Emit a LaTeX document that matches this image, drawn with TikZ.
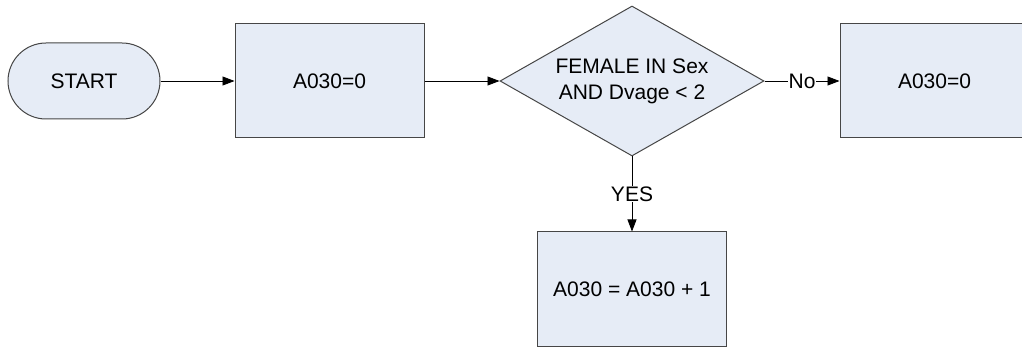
\documentclass[tikz,border=0pt]{standalone}
\usepackage{fontspec}
\setmainfont{Liberation Sans}
\usetikzlibrary{shapes.geometric,arrows.meta}
\definecolor{boxfill}{RGB}{230,236,246}
\definecolor{boxline}{RGB}{70,70,70}
\tikzset{
  every node/.style={font=\fontsize{21}{26}\selectfont},
  procbox/.style={draw=boxline, fill=boxfill, line width=1pt, minimum width=189pt, minimum height=114pt, inner sep=0pt},
  startbox/.style={draw=boxline, fill=boxfill, line width=1pt, rectangle, rounded corners=38pt, minimum width=152pt, minimum height=76pt, inner sep=0pt},
  decbox/.style={draw=boxline, fill=boxfill, line width=1pt, diamond, shape aspect=1.76, minimum width=264pt, minimum height=150pt, inner sep=0pt, align=center},
  conn/.style={draw=black, line width=0.8pt, -{Triangle[length=12pt,width=9pt]}},
  lbl/.style={fill=white, inner sep=1pt}
}
\begin{document}
\begin{tikzpicture}[x=1pt,y=-1pt]
\useasboundingbox (0,0) rectangle (1022,347);
\clip (0,0) rectangle (1022,347);
\node[startbox] (start) at (84,81) {START};
\node[procbox] (b1) at (329.5,81) {A030=0};
\node[decbox] (dia) at (632,81) {FEMALE IN Sex\\AND Dvage < 2};
\node[procbox] (b2) at (934.5,81) {A030=0};
\node[procbox] (b3) at (632,289) {A030 = A030 + 1};
\draw[conn] (start.east) -- (b1.west);
\draw[conn] (b1.east) -- (dia.west);
\draw[conn] (dia.east) -- node[lbl] (no) {No} (b2.west);
\draw[conn] (dia.south) -- node[lbl] (yes) {YES} (b3.north);
\end{tikzpicture}
\end{document}
